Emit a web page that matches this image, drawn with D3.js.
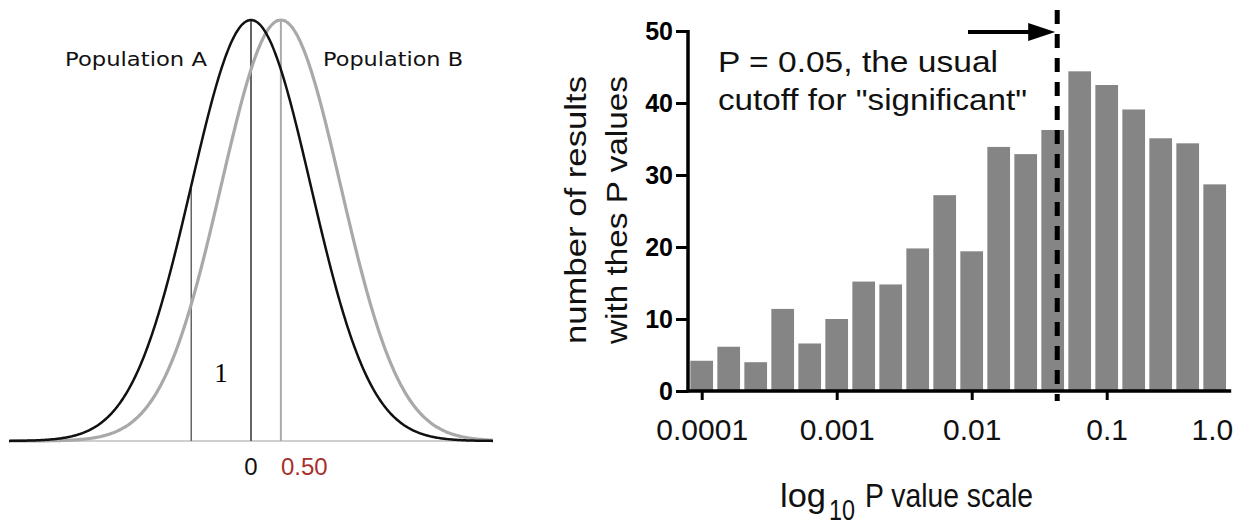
<!DOCTYPE html>
<html>
<head>
<meta charset="utf-8">
<script src="https://cdn.jsdelivr.net/npm/d3@7"></script>
<style>
  body { margin: 0; background: #fff; }
  svg { display: block; }
</style>
</head>
<body>
<div id="chart"></div>
<script>
// left panel: two normal curves (in SD units)
var popMeans = [0, 0.5];
var popNames = ["Population A", "Population B"];
var popColors = ["#111", "#a9a9a9"];
var popSD = 1;
var markerLines = [-1, 0, 0.5];

// right panel: histogram of P values, bins 0.2 log units wide
var binCentersLog = [-4.0, -3.8, -3.6, -3.4, -3.2, -3.0, -2.8, -2.6, -2.4, -2.2,
                     -2.0, -1.8, -1.6, -1.4, -1.2, -1.0, -0.8, -0.6, -0.4, -0.2];
var counts = [4.2, 6.15, 4.0, 11.4, 6.6, 10.0, 15.2, 14.8, 19.8, 27.2,
              19.4, 33.9, 32.9, 36.25, 44.4, 42.5, 39.1, 35.1, 34.4, 28.7];
var xTicks = [0.0001, 0.001, 0.01, 0.1, 1.0];
var xTickLabels = ["0.0001", "0.001", "0.01", "0.1", "1.0"];
var yTicks = [0, 10, 20, 30, 40, 50];
var cutoffP = 0.043;

var width = 1238, height = 525;

var svg = d3.select("#chart")
  .append("svg")
  .attr("width", width)
  .attr("height", height);

// ---------- left panel ----------
var lx = d3.scaleLinear().domain([-4.05, 4.05]).range([9, 493]);
var ly = d3.scaleLinear().domain([0, 1 / Math.sqrt(2 * Math.PI)]).range([441, 20]);

function pdf(x, m) {
  var z = (x - m) / popSD;
  return Math.exp(-0.5 * z * z) / (popSD * Math.sqrt(2 * Math.PI));
}

var left = svg.append("g");

left.append("line")
  .attr("x1", lx(-4.05)).attr("x2", lx(4.05))
  .attr("y1", ly(0)).attr("y2", ly(0))
  .style("stroke", "#cfcfcf")
  .style("stroke-width", 2);

var xs = d3.range(-4.05, 4.0501, 0.02);
var line = d3.line()
  .x(function(d) { return lx(d[0]); })
  .y(function(d) { return ly(d[1]); })
  .curve(d3.curveBasis);

// marker lines: -1 and 0 go to curve A, 0.5 to curve B
left.selectAll(".mark")
  .data(markerLines)
  .enter().append("line")
  .attr("class", "mark")
  .attr("x1", function(d) { return lx(d); })
  .attr("x2", function(d) { return lx(d); })
  .attr("y1", ly(0))
  .attr("y2", function(d) { return d == 0.5 ? ly(pdf(d, popMeans[1])) : ly(pdf(d, popMeans[0])); })
  .style("stroke", function(d) { return d == 0.5 ? "#aaa" : "#666"; })
  .style("stroke-width", function(d) { return d == -1 ? 1.5 : 2; });

// gray B first so black A is on top
[1, 0].forEach(function(i) {
  left.append("path")
    .datum(xs.map(function(x) { return [x, pdf(x, popMeans[i])]; }))
    .attr("d", line)
    .style("fill", "none")
    .style("stroke", popColors[i])
    .style("stroke-width", i == 0 ? 2.5 : 3.2);
});

[[popNames[0], 136, 142], [popNames[1], 393, 140]].forEach(function(t) {
  left.append("text")
    .attr("x", t[1]).attr("y", 66)
    .attr("text-anchor", "middle")
    .style("font-family", "'DejaVu Sans', sans-serif")
    .style("font-size", "19px")
    .style("fill", "#111")
    .attr("textLength", t[2])
    .attr("lengthAdjust", "spacingAndGlyphs")
    .text(t[0]);
});

left.append("text")
  .attr("x", (lx(-1) + lx(0)) / 2).attr("y", 382)
  .attr("text-anchor", "middle")
  .style("font-family", "'Liberation Serif', serif")
  .style("font-size", "27px")
  .text(popSD);

left.append("text")
  .attr("x", lx(0)).attr("y", 475)
  .attr("text-anchor", "middle")
  .style("font-family", "'Liberation Sans', Arial, sans-serif")
  .style("font-size", "24px")
  .style("fill", "#111")
  .text("0");

left.append("text")
  .attr("x", lx(0.5)).attr("y", 475)
  .style("font-family", "'Liberation Sans', Arial, sans-serif")
  .style("font-size", "24px")
  .style("fill", "#a8302e")
  .text("0.50");

// ---------- right panel ----------
var x = d3.scaleLog().domain([0.0001, 1]).range([701.7, 1241.7]);
var y = d3.scaleLinear().domain([0, 50]).range([391, 31]);

var right = svg.append("g");

right.selectAll(".bar")
  .data(counts)
  .enter().append("rect")
  .attr("class", "bar")
  .attr("x", function(d, i) { return x(Math.pow(10, binCentersLog[i] - 0.1)) + 2.15; })
  .attr("width", function(d, i) {
    return x(Math.pow(10, binCentersLog[i] + 0.1)) - x(Math.pow(10, binCentersLog[i] - 0.1)) - 4.3;
  })
  .attr("y", function(d) { return y(d); })
  .attr("height", function(d) { return y(0) - y(d); })
  .style("fill", "#858585");

var yAxis = d3.axisLeft(y).tickValues(yTicks).tickSize(12).tickPadding(3);
var yg = right.append("g")
  .attr("transform", "translate(688,0)")
  .call(yAxis);
yg.select(".domain").remove();
yg.selectAll(".tick line").style("stroke", "#000").style("stroke-width", 3);
yg.selectAll(".tick text")
  .style("font-family", "'Liberation Sans', Arial, sans-serif")
  .style("font-size", "25px")
  .style("font-weight", "bold")
  .style("fill", "#000");

var xAxis = d3.axisBottom(x).tickValues(xTicks)
  .tickFormat(function(d, i) { return xTickLabels[i]; })
  .tickSize(9).tickPadding(19);
var xg = right.append("g")
  .attr("transform", "translate(0,391)")
  .call(xAxis);
xg.select(".domain").remove();
xg.selectAll(".tick line").style("stroke", "#000").style("stroke-width", 3);
xg.selectAll(".tick text")
  .style("font-family", "'Liberation Sans', Arial, sans-serif")
  .style("font-size", "30px")
  .style("fill", "#111");
// last label sits inside the frame
xg.selectAll(".tick text").filter(function(d, i) { return i == xTicks.length - 1; })
  .attr("text-anchor", "end")
  .attr("dx", -9);

// axis lines
right.append("line")
  .attr("x1", 688).attr("x2", 688)
  .attr("y1", y(50) - 1).attr("y2", y(0) + 1.5)
  .style("stroke", "#000").style("stroke-width", 3.5);
right.append("line")
  .attr("x1", 686.5).attr("x2", x(Math.pow(10, -0.1)) + 3)
  .attr("y1", y(0)).attr("y2", y(0))
  .style("stroke", "#000").style("stroke-width", 3.5);

// cutoff dashed line
right.append("line")
  .attr("x1", x(cutoffP)).attr("x2", x(cutoffP))
  .attr("y1", 10).attr("y2", 401)
  .style("stroke", "#000")
  .style("stroke-width", 5)
  .style("stroke-dasharray", "14,10");

// arrow
right.append("line")
  .attr("x1", 968).attr("x2", x(cutoffP) - 24)
  .attr("y1", 32).attr("y2", 32)
  .style("stroke", "#000").style("stroke-width", 4);
right.append("path")
  .attr("d", "M" + (x(cutoffP) - 29) + ",23 L" + (x(cutoffP) - 2) + ",32 L" + (x(cutoffP) - 29) + ",41 Z")
  .style("fill", "#000");

right.append("text")
  .attr("x", 718).attr("y", 72)
  .style("font-family", "'Liberation Sans', Arial, sans-serif")
  .style("font-size", "29px")
  .style("fill", "#111")
  .attr("textLength", 280)
  .attr("lengthAdjust", "spacingAndGlyphs")
  .text("P = 0.05, the usual");
right.append("text")
  .attr("x", 718).attr("y", 110)
  .style("font-family", "'Liberation Sans', Arial, sans-serif")
  .style("font-size", "29px")
  .style("fill", "#111")
  .attr("textLength", 309)
  .attr("lengthAdjust", "spacingAndGlyphs")
  .text("cutoff for \"significant\"");

// y title
[["number of results", 586], ["with thes P values", 627]].forEach(function(t) {
  right.append("text")
    .attr("transform", "translate(" + t[1] + ",210) rotate(-90)")
    .attr("text-anchor", "middle")
    .style("font-family", "'Liberation Sans', Arial, sans-serif")
    .style("font-size", "30px")
    .style("fill", "#111")
    .attr("textLength", 268)
    .attr("lengthAdjust", "spacingAndGlyphs")
    .text(t[0]);
});

// x title: log, subscript 10, rest
[["log", 780, 507, 34, 46], ["10", 829, 520, 29, 26], ["P value scale", 865, 507, 34, 168]].forEach(function(t) {
  right.append("text")
    .attr("x", t[1]).attr("y", t[2])
    .style("font-family", "'Liberation Sans', Arial, sans-serif")
    .style("font-size", t[3] + "px")
    .style("fill", "#111")
    .attr("textLength", t[4])
    .attr("lengthAdjust", "spacingAndGlyphs")
    .text(t[0]);
});
</script>
</body>
</html>
